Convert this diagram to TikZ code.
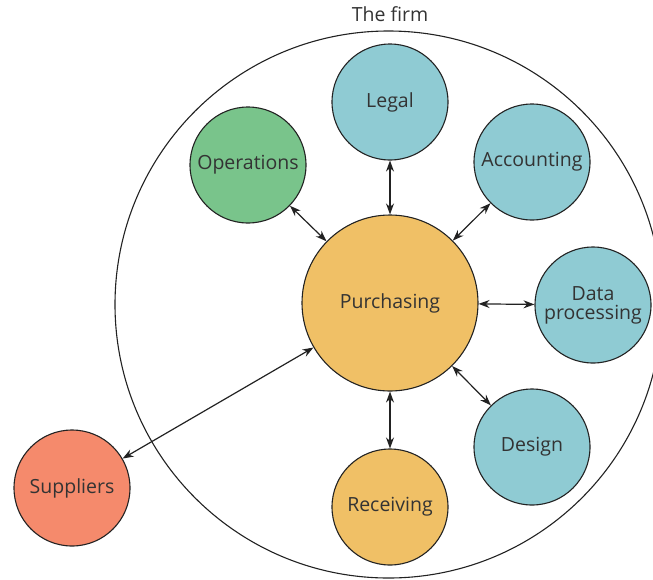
\documentclass[tikz,border=0pt]{standalone}
\usepackage{fontspec}
\setmainfont{Open Sans}
\usetikzlibrary{arrows.meta}
\definecolor{teal}{HTML}{8FCBD3}
\definecolor{opgreen}{HTML}{79C48B}
\definecolor{purch}{HTML}{F0C066}
\definecolor{supp}{HTML}{F58A6C}
\definecolor{txt}{HTML}{333333}
\definecolor{ln}{HTML}{222222}
\tikzset{
  unit/.style={circle, draw=ln, line width=1.1pt, minimum size=116pt, inner sep=0pt, text=txt, font=\fontsize{19.5}{22}\selectfont, align=center},
  big/.style={unit, minimum size=176pt},
  link/.style={{Stealth[length=11pt,width=8pt]}-{Stealth[length=11pt,width=8pt]}, draw=ln, line width=1.2pt}
}
\begin{document}
\begin{tikzpicture}[x=1pt,y=-1pt]
\useasboundingbox (0,0) rectangle (653,579);
\begin{scope}
\clip (0,0) rectangle (653,579);
\node[circle, draw=ln, line width=1.1pt, minimum size=547pt, inner sep=0pt] (firm) at (388.5,304.5) {};
\end{scope}
\node[text=txt, font=\fontsize{19.5}{22}\selectfont] (firmlbl) at (390,14) {The firm};
\node[big, fill=purch] (p) at (390,303) {Purchasing};
\node[unit, fill=teal] (legal) at (390,102) {Legal};
\node[unit, fill=opgreen] (ops) at (248,165) {Operations};
\node[unit, fill=teal] (acc) at (532,162) {Accounting};
\node[unit, fill=teal] (dp) at (593,305) {Data\\[-3pt]processing};
\node[unit, fill=teal] (des) at (532,447) {Design};
\node[unit, fill=purch] (rec) at (390,507) {Receiving};
\node[unit, fill=supp] (sup) at (72,488) {Suppliers};
\draw[link] (p) -- (legal);
\draw[link] (p) -- (ops);
\draw[link] (p) -- (acc);
\draw[link] (p) -- (dp);
\draw[link] (p) -- (des);
\draw[link] (p) -- (rec);
\draw[link] (p) -- (sup);
\end{tikzpicture}
\end{document}
